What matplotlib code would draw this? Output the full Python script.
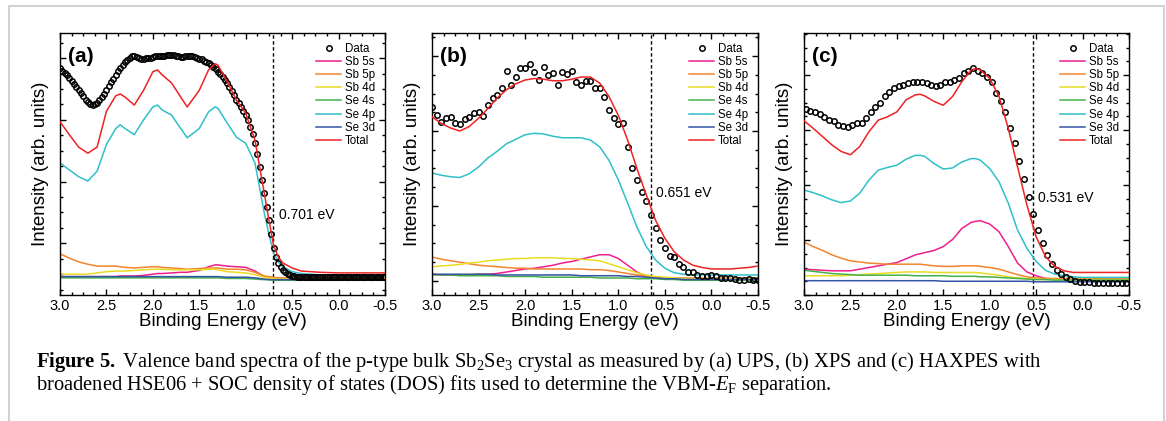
import matplotlib
matplotlib.use("Agg")
import matplotlib.pyplot as plt
from matplotlib.lines import Line2D
from matplotlib.ticker import MultipleLocator, FormatStrFormatter, NullFormatter

plt.rcParams["font.family"] = "Liberation Sans"
plt.rcParams["axes.unicode_minus"] = False
plt.rcParams["mathtext.fontset"] = "custom"
plt.rcParams["mathtext.rm"] = "Liberation Serif"
plt.rcParams["mathtext.it"] = "Liberation Serif:italic"
plt.rcParams["mathtext.bf"] = "Liberation Serif:bold"

# ---------------- panel (a) UPS (dense scan) ----------------
a_data_e = [3.000, 2.975, 2.950, 2.925, 2.900, 2.875, 2.850, 2.825, 2.800, 2.775,
            2.750, 2.725, 2.700, 2.675, 2.650, 2.625, 2.600, 2.575, 2.550, 2.525,
            2.500, 2.475, 2.450, 2.425, 2.400, 2.375, 2.350, 2.325, 2.300, 2.275,
            2.250, 2.225, 2.200, 2.175, 2.150, 2.125, 2.100, 2.075, 2.050, 2.025,
            2.000, 1.975, 1.950, 1.925, 1.900, 1.875, 1.850, 1.825, 1.800, 1.775,
            1.750, 1.725, 1.700, 1.675, 1.650, 1.625, 1.600, 1.575, 1.550, 1.525,
            1.500, 1.475, 1.450, 1.425, 1.400, 1.375, 1.350, 1.325, 1.300, 1.275,
            1.250, 1.225, 1.200, 1.175, 1.150, 1.125, 1.100, 1.075, 1.050, 1.025,
            1.000, 0.975, 0.950, 0.925, 0.900, 0.875, 0.850, 0.825, 0.800, 0.775,
            0.750, 0.725, 0.700, 0.675, 0.650, 0.625, 0.600, 0.575, 0.550, 0.525,
            0.500, 0.475, 0.450, 0.425, 0.400, 0.375, 0.350, 0.325, 0.300, 0.275,
            0.250, 0.225, 0.200, 0.175, 0.150, 0.125, 0.100, 0.075, 0.050, 0.025,
            0.000, -0.025, -0.050, -0.075, -0.100, -0.125, -0.150, -0.175, -0.200, -0.225,
            -0.250, -0.275, -0.300, -0.325, -0.350, -0.375, -0.400, -0.425, -0.450, -0.475,
            -0.500]
a_data = [3.84, 3.80, 3.76, 3.72, 3.68, 3.63, 3.58, 3.53, 3.48, 3.43,
          3.38, 3.33, 3.29, 3.26, 3.24, 3.25, 3.27, 3.32, 3.37, 3.42,
          3.48, 3.55, 3.61, 3.67, 3.73, 3.79, 3.84, 3.89, 3.94, 3.97,
          4.00, 4.03, 4.04, 4.02, 4.01, 3.99, 3.99, 4.00, 4.00, 4.01,
          4.02, 4.03, 4.03, 4.04, 4.04, 4.04, 4.05, 4.05, 4.05, 4.05,
          4.04, 4.03, 4.02, 4.02, 4.03, 4.04, 4.04, 4.03, 4.02, 4.01,
          3.99, 3.98, 3.96, 3.94, 3.92, 3.89, 3.86, 3.82, 3.78, 3.74,
          3.69, 3.65, 3.60, 3.54, 3.47, 3.40, 3.32, 3.27, 3.21, 3.15,
          3.08, 2.99, 2.88, 2.77, 2.63, 2.45, 2.24, 2.03, 1.81, 1.59,
          1.38, 1.15, 0.92, 0.78, 0.68, 0.62, 0.57, 0.53, 0.50, 0.48,
          0.47, 0.47, 0.46, 0.46, 0.46, 0.46, 0.46, 0.46, 0.46, 0.46,
          0.46, 0.46, 0.46, 0.46, 0.46, 0.46, 0.46, 0.46, 0.46, 0.46,
          0.46, 0.46, 0.46, 0.46, 0.46, 0.46, 0.46, 0.46, 0.46, 0.46,
          0.46, 0.46, 0.46, 0.46, 0.46, 0.46, 0.46, 0.46, 0.46, 0.46,
          0.46]

a_fit_e = [3.0, 2.9, 2.8, 2.7, 2.6, 2.5, 2.4, 2.35, 2.3, 2.2,
           2.1, 2.0, 1.95, 1.9, 1.8, 1.7, 1.63, 1.5, 1.4, 1.33,
           1.3, 1.2, 1.1, 1.0, 0.9, 0.8, 0.75, 0.7, 0.65, 0.6,
           0.5, 0.4, 0.3, 0.2, 0.0, -0.25, -0.5]
a_sb5s = [0.46, 0.46, 0.46, 0.46, 0.46, 0.46, 0.46, 0.47, 0.47, 0.47,
          0.48, 0.50, 0.51, 0.51, 0.52, 0.53, 0.53, 0.56, 0.62, 0.65,
          0.65, 0.63, 0.62, 0.61, 0.55, 0.46, 0.44, 0.43, 0.42, 0.42,
          0.42, 0.42, 0.42, 0.42, 0.42, 0.42, 0.42]
a_sb5p = [0.83, 0.76, 0.70, 0.66, 0.63, 0.63, 0.63, 0.62, 0.61, 0.60,
          0.61, 0.62, 0.62, 0.61, 0.60, 0.59, 0.58, 0.59, 0.60, 0.60,
          0.60, 0.58, 0.58, 0.57, 0.53, 0.47, 0.46, 0.45, 0.44, 0.44,
          0.44, 0.44, 0.44, 0.44, 0.44, 0.44, 0.44]
a_sb4d = [0.50, 0.50, 0.50, 0.50, 0.52, 0.54, 0.55, 0.55, 0.55, 0.56,
          0.57, 0.58, 0.58, 0.58, 0.57, 0.57, 0.57, 0.57, 0.58, 0.58,
          0.57, 0.54, 0.53, 0.52, 0.49, 0.45, 0.44, 0.43, 0.42, 0.42,
          0.42, 0.42, 0.42, 0.42, 0.42, 0.42, 0.42]
a_se4s = [0.44, 0.44, 0.44, 0.44, 0.44, 0.44, 0.44, 0.44, 0.44, 0.44,
          0.44, 0.44, 0.44, 0.44, 0.44, 0.44, 0.44, 0.44, 0.44, 0.44,
          0.44, 0.43, 0.43, 0.43, 0.42, 0.41, 0.41, 0.40, 0.40, 0.40,
          0.40, 0.40, 0.40, 0.40, 0.40, 0.40, 0.40]
a_se4p = [2.30, 2.19, 2.08, 2.01, 2.17, 2.60, 2.86, 2.92, 2.86, 2.76,
          3.00, 3.21, 3.24, 3.16, 3.08, 2.86, 2.71, 2.86, 3.13, 3.21,
          3.19, 2.95, 2.72, 2.62, 2.30, 1.49, 1.15, 0.84, 0.70, 0.62,
          0.54, 0.51, 0.50, 0.49, 0.49, 0.48, 0.47]
a_se3d = [0.46, 0.46, 0.46, 0.46, 0.46, 0.46, 0.46, 0.46, 0.46, 0.46,
          0.46, 0.46, 0.46, 0.46, 0.46, 0.46, 0.46, 0.46, 0.46, 0.46,
          0.46, 0.45, 0.45, 0.45, 0.44, 0.42, 0.41, 0.41, 0.41, 0.41,
          0.41, 0.41, 0.41, 0.41, 0.41, 0.41, 0.41]
a_total = [2.97, 2.76, 2.56, 2.46, 2.56, 3.14, 3.39, 3.42, 3.37, 3.24,
           3.48, 3.78, 3.81, 3.73, 3.60, 3.37, 3.21, 3.48, 3.81, 3.91,
           3.89, 3.62, 3.32, 3.11, 2.67, 1.81, 1.38, 0.97, 0.78, 0.68,
           0.60, 0.55, 0.54, 0.53, 0.52, 0.52, 0.52]

# ---------------- panel (b) XPS ----------------
b_data_e = [3.00, 2.95, 2.90, 2.85, 2.80, 2.75, 2.70, 2.65, 2.60, 2.55,
            2.50, 2.45, 2.40, 2.35, 2.30, 2.25, 2.20, 2.15, 2.10, 2.05,
            2.00, 1.95, 1.90, 1.85, 1.80, 1.75, 1.70, 1.65, 1.60, 1.55,
            1.50, 1.45, 1.40, 1.35, 1.30, 1.25, 1.20, 1.15, 1.10, 1.05,
            1.00, 0.95, 0.90, 0.85, 0.80, 0.75, 0.70, 0.65, 0.60, 0.55,
            0.50, 0.45, 0.40, 0.35, 0.30, 0.25, 0.20, 0.15, 0.10, 0.05,
            0.00, -0.05, -0.10, -0.15, -0.20, -0.25, -0.30, -0.35, -0.40, -0.45, -0.50]
b_data = [2.32, 2.21, 2.12, 2.17, 2.19, 2.11, 2.09, 2.16, 2.19, 2.24,
          2.26, 2.20, 2.35, 2.44, 2.48, 2.57, 2.80, 2.61, 2.72, 2.84,
          2.84, 2.89, 2.79, 2.68, 2.86, 2.75, 2.78, 2.61, 2.79, 2.76,
          2.80, 2.66, 2.62, 2.67, 2.67, 2.58, 2.58, 2.46, 2.28, 2.18,
          2.10, 2.11, 1.79, 1.50, 1.35, 1.18, 1.06, 0.88, 0.70, 0.55,
          0.44, 0.33, 0.32, 0.22, 0.19, 0.12, 0.12, 0.08, 0.07, 0.07,
          0.08, 0.07, 0.04, 0.04, 0.04, 0.02, 0.01, 0.01, 0.02, 0.01, 0.01]

b_fit_e = [3.0, 2.9, 2.8, 2.7, 2.6, 2.5, 2.4, 2.3, 2.2, 2.1,
           2.0, 1.9, 1.8, 1.7, 1.6, 1.5, 1.4, 1.3, 1.2, 1.1,
           1.0, 0.9, 0.8, 0.7, 0.6, 0.5, 0.4, 0.3, 0.2, 0.1,
           0.0, -0.1, -0.2, -0.3, -0.4, -0.5]
b_sb5s = [0.09, 0.08, 0.08, 0.08, 0.08, 0.09, 0.09, 0.10, 0.12, 0.14,
          0.16, 0.17, 0.19, 0.21, 0.24, 0.26, 0.29, 0.32, 0.35, 0.35,
          0.30, 0.21, 0.12, 0.06, 0.04, 0.03, 0.03, 0.03, 0.03, 0.03,
          0.03, 0.03, 0.03, 0.03, 0.03, 0.03]
b_sb5p = [0.32, 0.29, 0.27, 0.25, 0.23, 0.21, 0.20, 0.19, 0.18, 0.17,
          0.17, 0.16, 0.16, 0.16, 0.16, 0.16, 0.16, 0.15, 0.15, 0.14,
          0.12, 0.10, 0.08, 0.06, 0.05, 0.04, 0.04, 0.04, 0.04, 0.04,
          0.04, 0.04, 0.04, 0.04, 0.04, 0.04]
b_sb4d = [0.19, 0.20, 0.21, 0.22, 0.24, 0.25, 0.27, 0.28, 0.29, 0.30,
          0.30, 0.31, 0.31, 0.31, 0.30, 0.30, 0.29, 0.28, 0.27, 0.23,
          0.19, 0.15, 0.11, 0.08, 0.06, 0.05, 0.04, 0.03, 0.03, 0.03,
          0.03, 0.03, 0.03, 0.03, 0.03, 0.03]
b_se4s = [0.08, 0.08, 0.08, 0.07, 0.07, 0.07, 0.07, 0.07, 0.06, 0.06,
          0.06, 0.06, 0.05, 0.05, 0.05, 0.05, 0.05, 0.05, 0.04, 0.04,
          0.04, 0.04, 0.03, 0.03, 0.03, 0.02, 0.02, 0.01, 0.01, 0.01,
          0.01, 0.01, 0.01, 0.01, 0.01, 0.01]
b_se4p = [1.44, 1.41, 1.39, 1.38, 1.43, 1.52, 1.64, 1.73, 1.83, 1.89,
          1.95, 1.97, 1.96, 1.93, 1.91, 1.91, 1.91, 1.88, 1.79, 1.61,
          1.35, 1.04, 0.72, 0.46, 0.28, 0.17, 0.11, 0.09, 0.08, 0.08,
          0.08, 0.08, 0.08, 0.08, 0.08, 0.08]
b_se3d = [0.09, 0.09, 0.09, 0.09, 0.09, 0.09, 0.09, 0.08, 0.08, 0.08,
          0.08, 0.08, 0.08, 0.08, 0.08, 0.08, 0.07, 0.07, 0.07, 0.07,
          0.07, 0.06, 0.06, 0.05, 0.04, 0.03, 0.03, 0.02, 0.02, 0.02,
          0.02, 0.02, 0.02, 0.02, 0.02, 0.02]
b_total = [2.19, 2.10, 2.04, 2.00, 2.06, 2.17, 2.30, 2.44, 2.55, 2.63,
           2.68, 2.70, 2.69, 2.67, 2.67, 2.69, 2.72, 2.72, 2.64, 2.46,
           2.21, 1.88, 1.50, 1.15, 0.81, 0.57, 0.39, 0.28, 0.21, 0.18,
           0.16, 0.16, 0.16, 0.17, 0.18, 0.20]

# ---------------- panel (c) HAXPES ----------------
c_data_e = [2.98, 2.93, 2.88, 2.83, 2.78, 2.73, 2.68, 2.63, 2.58, 2.53,
            2.48, 2.43, 2.38, 2.33, 2.28, 2.23, 2.18, 2.13, 2.08, 2.03,
            1.98, 1.93, 1.88, 1.83, 1.78, 1.73, 1.68, 1.63, 1.58, 1.53,
            1.48, 1.43, 1.38, 1.33, 1.28, 1.23, 1.18, 1.13, 1.08, 1.03,
            0.98, 0.93, 0.88, 0.83, 0.78, 0.73, 0.68, 0.63, 0.58, 0.53,
            0.48, 0.43, 0.38, 0.33, 0.28, 0.23, 0.18, 0.13, 0.08, 0.03,
            -0.02, -0.07, -0.12, -0.17, -0.22, -0.27, -0.32, -0.37, -0.42, -0.47]
c_data = [3.38, 3.35, 3.32, 3.30, 3.24, 3.18, 3.17, 3.10, 3.07, 3.06,
          3.09, 3.12, 3.12, 3.21, 3.32, 3.41, 3.50, 3.61, 3.70, 3.77,
          3.80, 3.82, 3.86, 3.87, 3.87, 3.88, 3.86, 3.82, 3.80, 3.82,
          3.88, 3.88, 3.91, 3.95, 4.03, 4.08, 4.12, 4.08, 4.03, 3.96,
          3.87, 3.68, 3.53, 3.32, 3.03, 2.76, 2.44, 2.11, 1.79, 1.47,
          1.19, 0.94, 0.73, 0.56, 0.45, 0.38, 0.32, 0.29, 0.26, 0.24,
          0.23, 0.23, 0.22, 0.22, 0.22, 0.22, 0.22, 0.22, 0.22, 0.22]

c_fit_e = [3.0, 2.9, 2.8, 2.7, 2.6, 2.5, 2.4, 2.3, 2.2, 2.1,
           2.0, 1.9, 1.8, 1.75, 1.7, 1.6, 1.5, 1.4, 1.3, 1.2,
           1.15, 1.1, 1.0, 0.9, 0.8, 0.7, 0.6, 0.5, 0.4, 0.3,
           0.2, 0.1, 0.0, -0.25, -0.5]
c_sb5s = [0.47, 0.46, 0.45, 0.44, 0.44, 0.44, 0.47, 0.50, 0.53, 0.56,
          0.59, 0.66, 0.73, 0.75, 0.77, 0.81, 0.88, 1.01, 1.21, 1.32,
          1.34, 1.35, 1.29, 1.15, 0.88, 0.58, 0.42, 0.35, 0.30, 0.29,
          0.28, 0.28, 0.28, 0.28, 0.28]
c_sb5p = [0.96, 0.88, 0.81, 0.73, 0.67, 0.62, 0.60, 0.58, 0.57, 0.56,
          0.56, 0.56, 0.56, 0.56, 0.55, 0.53, 0.52, 0.52, 0.53, 0.53,
          0.53, 0.52, 0.50, 0.47, 0.42, 0.37, 0.33, 0.31, 0.30, 0.30,
          0.30, 0.30, 0.30, 0.30, 0.30]
c_sb4d = [0.35, 0.35, 0.35, 0.35, 0.35, 0.36, 0.37, 0.38, 0.39, 0.40,
          0.41, 0.42, 0.42, 0.42, 0.42, 0.41, 0.41, 0.41, 0.41, 0.41,
          0.41, 0.40, 0.38, 0.36, 0.33, 0.31, 0.30, 0.29, 0.28, 0.28,
          0.28, 0.28, 0.28, 0.28, 0.28]
c_se4s = [0.45, 0.43, 0.41, 0.39, 0.38, 0.37, 0.36, 0.36, 0.36, 0.36,
          0.36, 0.36, 0.35, 0.35, 0.35, 0.35, 0.35, 0.34, 0.34, 0.34,
          0.34, 0.33, 0.33, 0.32, 0.31, 0.30, 0.29, 0.28, 0.28, 0.27,
          0.27, 0.27, 0.27, 0.27, 0.27]
c_se4p = [1.91, 1.86, 1.80, 1.73, 1.68, 1.71, 1.85, 2.09, 2.27, 2.32,
          2.36, 2.47, 2.54, 2.54, 2.52, 2.39, 2.29, 2.31, 2.42, 2.48,
          2.48, 2.45, 2.30, 2.06, 1.67, 1.18, 0.85, 0.61, 0.45, 0.38,
          0.35, 0.33, 0.32, 0.32, 0.32]
c_se3d = [0.26, 0.26, 0.26, 0.26, 0.26, 0.26, 0.26, 0.26, 0.26, 0.26,
          0.26, 0.26, 0.26, 0.26, 0.26, 0.26, 0.25, 0.25, 0.25, 0.25,
          0.25, 0.25, 0.25, 0.25, 0.25, 0.25, 0.25, 0.24, 0.24, 0.24,
          0.24, 0.24, 0.24, 0.24, 0.24]
c_total = [3.17, 3.03, 2.88, 2.73, 2.61, 2.55, 2.70, 2.97, 3.18, 3.24,
           3.33, 3.55, 3.64, 3.65, 3.62, 3.52, 3.45, 3.61, 3.88, 4.09,
           4.12, 4.09, 3.94, 3.61, 3.03, 2.33, 1.64, 1.06, 0.70, 0.52,
           0.44, 0.41, 0.41, 0.41, 0.41]

vbm = [0.701, 0.651, 0.531]
vbm_text_y = [1.46, 1.17, 1.76]
panel_labels = ["(a)", "(b)", "(c)"]
ylims = [(0.162, 4.408), (-0.187, 3.307), (0.0, 4.764)]

names = ["Sb 5s", "Sb 5p", "Sb 4d", "Se 4s", "Se 4p", "Se 3d", "Total"]
colors = ["#ee1e8f", "#f4842c", "#e8dc22", "#45b04a", "#2ec0c8", "#3353a4", "#ee2222"]

panels = [
    (a_data_e, a_data, a_fit_e, [a_sb5s, a_sb5p, a_sb4d, a_se4s, a_se4p, a_se3d, a_total]),
    (b_data_e, b_data, b_fit_e, [b_sb5s, b_sb5p, b_sb4d, b_se4s, b_se4p, b_se3d, b_total]),
    (c_data_e, c_data, c_fit_e, [c_sb5s, c_sb5p, c_sb4d, c_se4s, c_se4p, c_se3d, c_total]),
]

W, H = 1166, 421
fig = plt.figure(figsize=(W / 100, H / 100), dpi=100)
lefts = [60, 432, 804]
widths = [325, 326, 325]

for i, (de, dv, fe, fits) in enumerate(panels):
    ax = fig.add_axes([lefts[i] / W, (H - 295) / H, widths[i] / W, 262 / H])
    ax.plot(de, dv, ls="none", marker="o", ms=3.9, mfc="none", mec="black",
            mew=1.1, label="Data", zorder=3)
    for name, col, vals in zip(names, colors, fits):
        ax.plot(fe, vals, color=col, lw=1.1, label=name,
                zorder=4 if name == "Total" else 2)
    ax.axvline(vbm[i], color="black", ls=(0, (2.5, 1.8)), lw=1.0, zorder=1)
    ax.text(vbm[i] - 0.055, vbm_text_y[i], "%.3f eV" % vbm[i], fontsize=10,
            ha="left", va="center")
    ax.text(0.025, 0.912, panel_labels[i], transform=ax.transAxes, fontsize=15,
            fontweight="bold", va="center", ha="left")

    ax.set_xlim(3.0, -0.5)
    ax.set_ylim(*ylims[i])
    ax.xaxis.set_major_locator(MultipleLocator(0.5))
    ax.xaxis.set_minor_locator(MultipleLocator(0.125))
    ax.xaxis.set_major_formatter(FormatStrFormatter("%.1f"))
    ax.yaxis.set_major_locator(MultipleLocator(1.0))
    ax.yaxis.set_minor_locator(MultipleLocator(0.25))
    ax.yaxis.set_major_formatter(NullFormatter())
    ax.tick_params(which="both", direction="in", top=True, right=True,
                   width=1.0, labelsize=10.5, pad=3)
    ax.tick_params(which="major", length=4.5)
    ax.tick_params(which="minor", length=2.5)
    for sp in ax.spines.values():
        sp.set_linewidth(1.0)
    ax.set_xlabel("Binding Energy (eV)", fontsize=13.5, labelpad=0)
    ax.set_ylabel("Intensity (arb. units)", fontsize=13.5, labelpad=5)
    ax.legend(loc="upper right", frameon=False, fontsize=8.3, numpoints=1,
              handlelength=2.2, handletextpad=0.3, labelspacing=0.1,
              borderaxespad=0.45, borderpad=0.4)

# light page frame around the figure
fig.add_artist(Line2D([9 / W, 9 / W, 1164 / W, 1164 / W],
                      [-0.05, 1 - 6 / H, 1 - 6 / H, -0.05],
                      transform=fig.transFigure, color="#d2d2d2", lw=1.5))

cap1 = (r"$\mathbf{Figure\ 5.}$ Valence band spectra of the p-type bulk Sb$_2$Se$_3$ "
        r"crystal as measured by (a) UPS, (b) XPS and (c) HAXPES with")
cap2 = (r"broadened HSE06 + SOC density of states (DOS) fits used to determine "
        r"the VBM-$E_\mathrm{F}$ separation.")
fig.text(36 / W, 1 - 362 / H, cap1, family="Liberation Serif", fontsize=14.8,
         va="center", ha="left")
fig.text(36 / W, 1 - 385 / H, cap2, family="Liberation Serif", fontsize=14.8,
         va="center", ha="left")

fig.savefig("out.png", dpi=100)
